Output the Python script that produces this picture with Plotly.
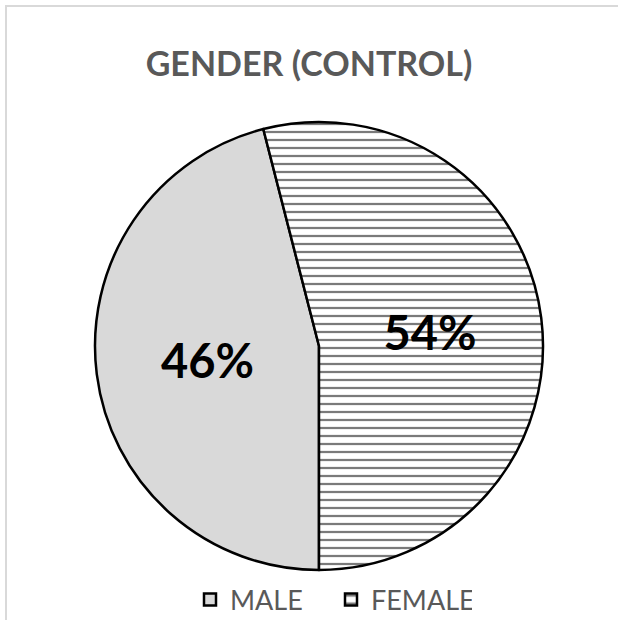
import plotly.graph_objects as go

# Gender split of the control group
labels = ["MALE", "FEMALE"]
shares = [46, 54]

fill_colors = ["#d9d9d9", "#ffffff"]
patterns = ["", "-"]

W, H = 618, 620

fig = go.Figure(
    go.Pie(
        labels=labels,
        values=shares,
        sort=False,
        direction="clockwise",
        rotation=180,
        texttemplate="%{percent:.0%}",
        textposition="inside",
        insidetextorientation="horizontal",
        insidetextfont=dict(family="Lato", size=47, color="#000000", weight="bold"),
        marker=dict(
            colors=fill_colors,
            line=dict(color="#000000", width=2.5),
            pattern=dict(
                shape=patterns,
                fgcolor="#7a7a7a",
                bgcolor="#ffffff",
                size=8,
                solidity=0.28,
                fillmode="replace",
            ),
        ),
        domain=dict(x=[95 / W, 543 / W], y=[1 - 571 / H, 1 - 121 / H]),
        hoverinfo="label+percent",
    )
)

fig.update_layout(
    width=W,
    height=H,
    margin=dict(l=0, r=0, t=0, b=0, autoexpand=False),
    paper_bgcolor="#ffffff",
    plot_bgcolor="#ffffff",
    title=dict(
        text="<b>GENDER (CONTROL)</b>",
        x=0.5,
        xanchor="center",
        y=1 - 64 / H,
        yanchor="middle",
        font=dict(family="Lato", size=34, color="#595959"),
    ),
    showlegend=True,
    legend=dict(
        orientation="h",
        x=190 / W,
        xanchor="left",
        y=1 - 600 / H,
        yanchor="middle",
        font=dict(family="Lato", size=27, color="#595959"),
        itemwidth=30,
        entrywidth=96,
        entrywidthmode="pixels",
    ),
    shapes=[
        dict(
            type="rect",
            xref="paper",
            yref="paper",
            x0=6 / W,
            x1=1.05,
            y0=-0.05,
            y1=1 - 6 / H,
            line=dict(color="#d9d9d9", width=2),
            fillcolor="rgba(0,0,0,0)",
            layer="below",
        )
    ],
)

fig.write_html("out.html")
